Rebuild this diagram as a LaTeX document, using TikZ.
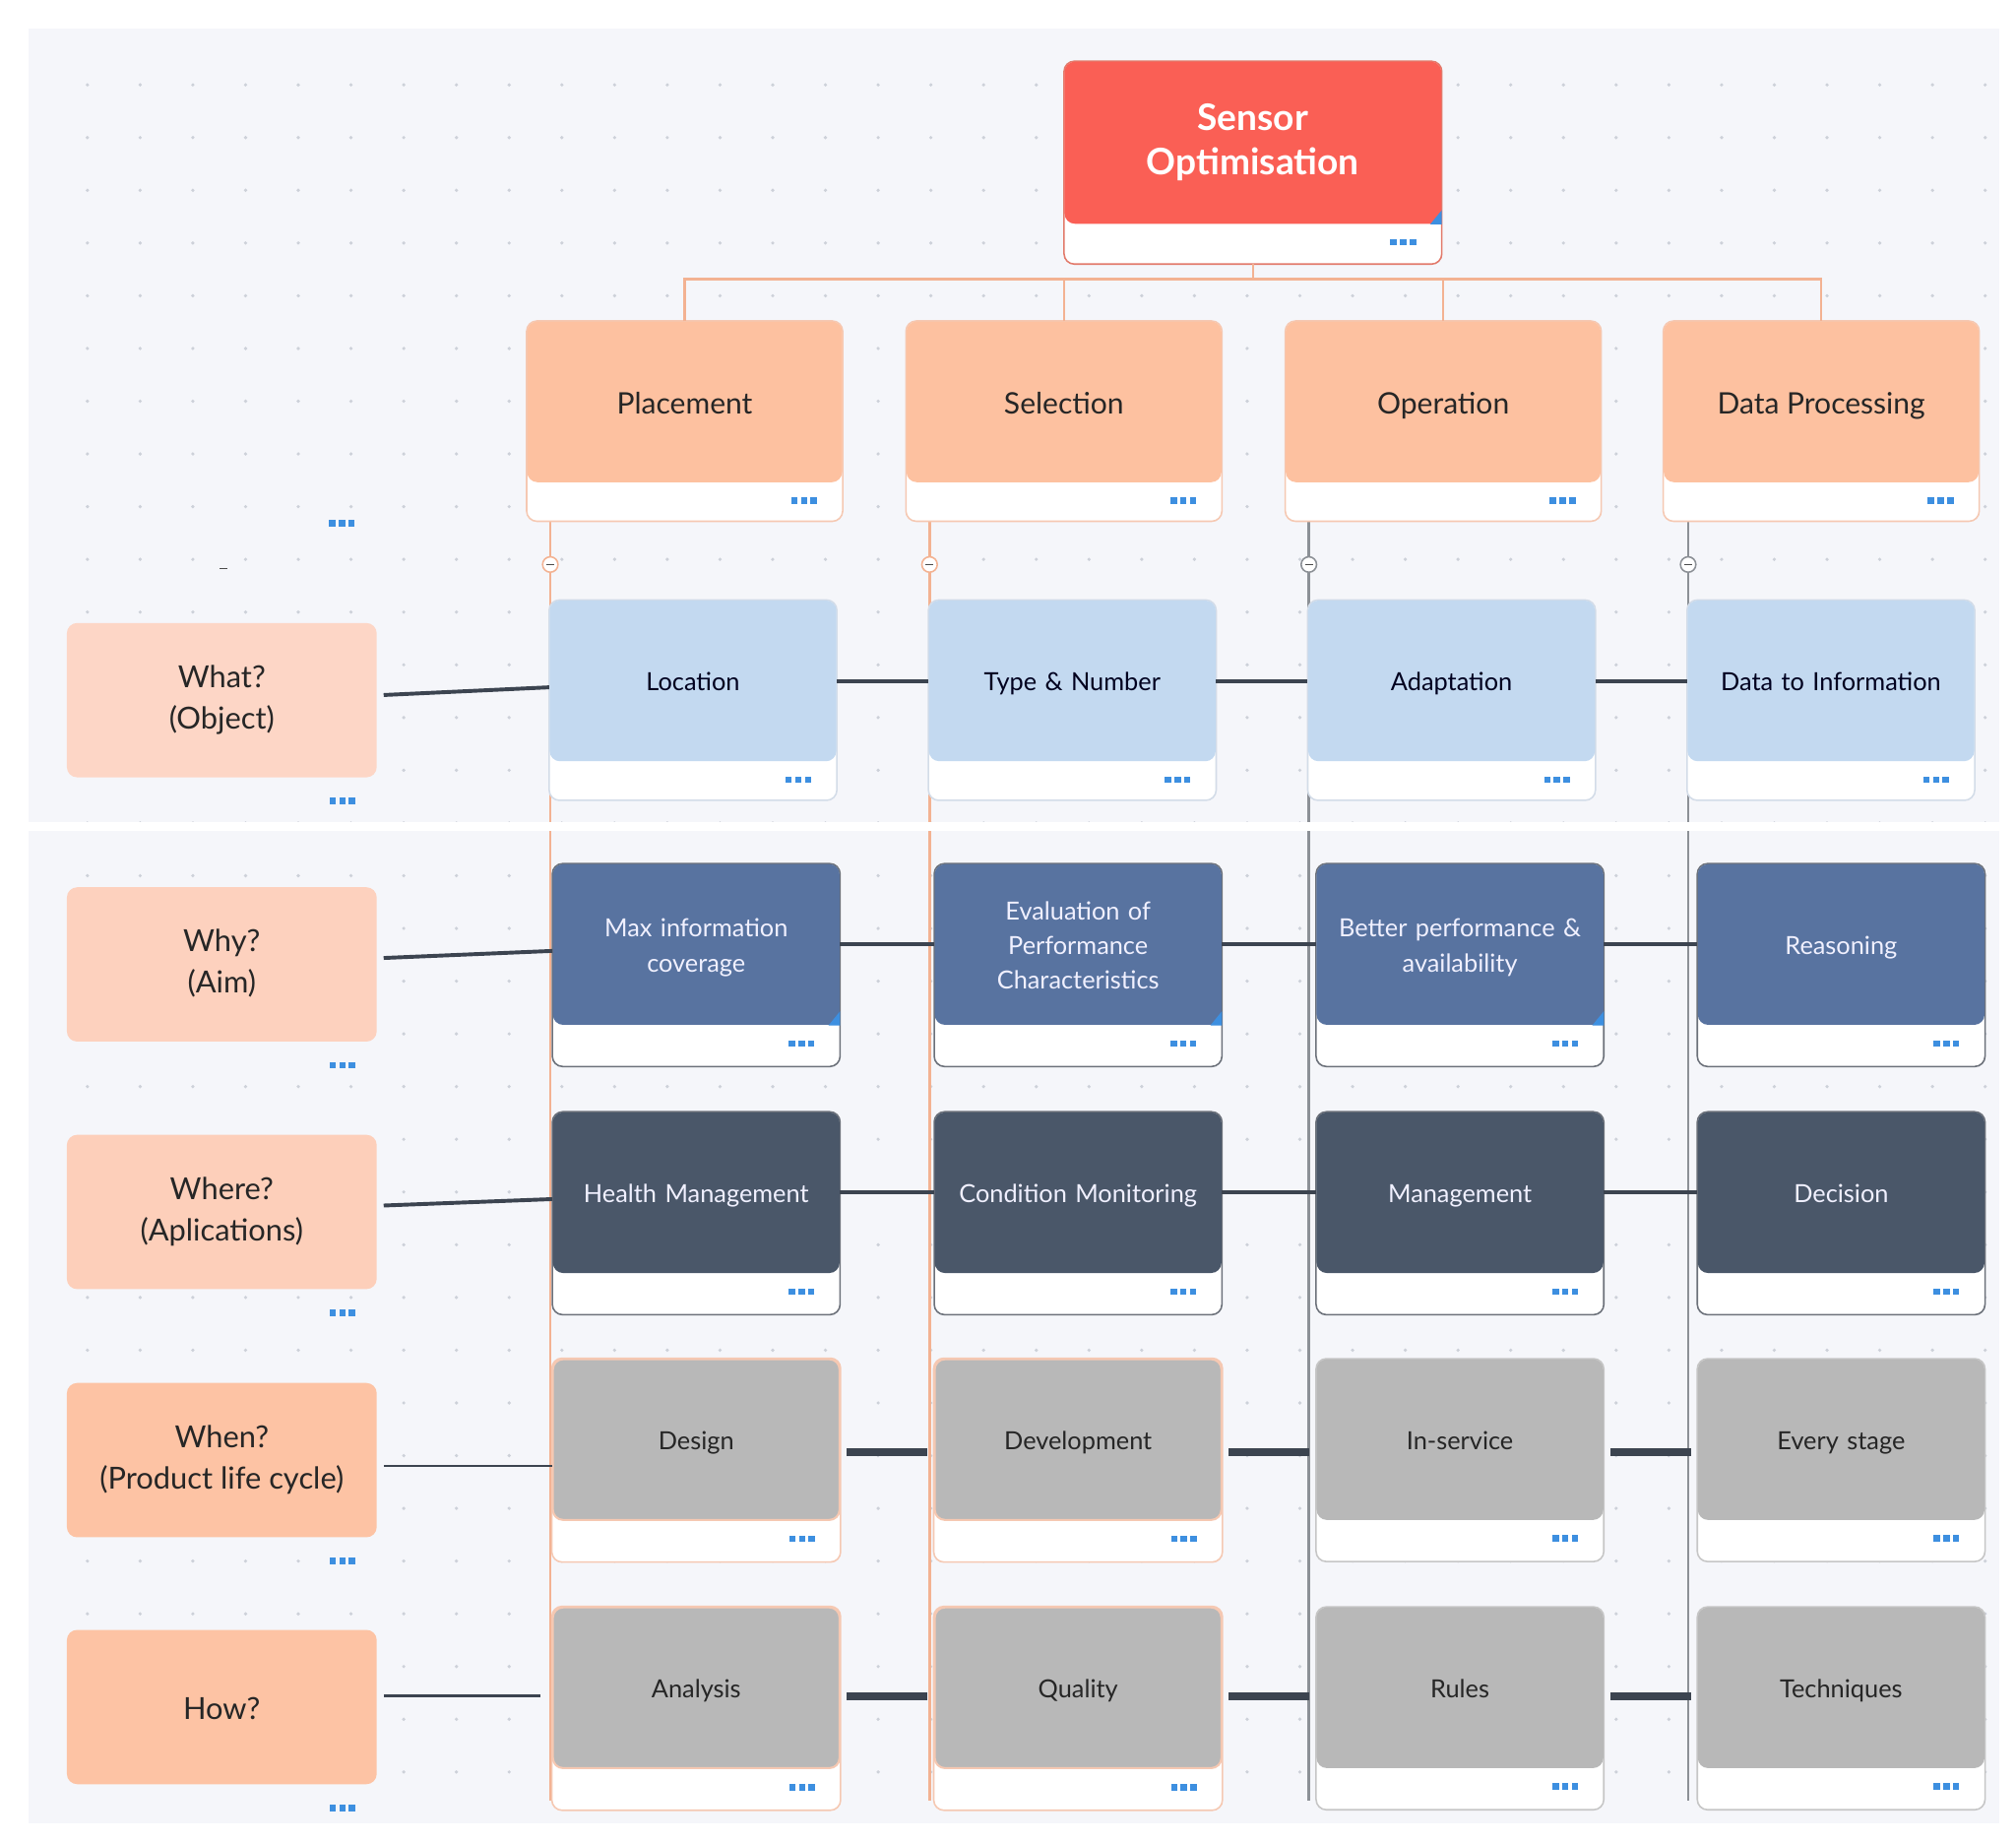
\documentclass[tikz,border=0pt]{standalone}
\usepackage{fontspec}
\setmainfont{Lato}
\usepackage{xcolor}
\usetikzlibrary{positioning, calc, backgrounds}

\definecolor{canvas}{HTML}{F5F6FA}
\definecolor{griddot}{HTML}{CDD1D9}
\definecolor{rootred}{HTML}{FA5F55}
\definecolor{rootrim}{HTML}{E27A6B}
\definecolor{peach}{HTML}{FDC1A0}
\definecolor{peachrim}{HTML}{F5C8B2}
\definecolor{treeline}{HTML}{F3B292}
\definecolor{greyline}{HTML}{8C9096}
\definecolor{skyblue}{HTML}{C3D9F0}
\definecolor{skyrim}{HTML}{D3DCE8}
\definecolor{steel}{HTML}{5873A0}
\definecolor{slate}{HTML}{4A5769}
\definecolor{darkrim}{HTML}{6C717A}
\definecolor{stone}{HTML}{B8B8B8}
\definecolor{stonerim}{HTML}{C6C6C6}
\definecolor{linkdark}{HTML}{3C4450}
\definecolor{dotblue}{HTML}{3D8FE0}
\definecolor{qone}{HTML}{FDD6C6}
\definecolor{qtwo}{HTML}{FDD1BE}
\definecolor{qthree}{HTML}{FDCFBA}
\definecolor{qfour}{HTML}{FDC3A4}

% three small squares under each card
\newcommand{\moredots}[1]{%
  \foreach \k in {-7.5,0,7.5} \fill[dotblue] ($(#1)+(\k,0)$) ++(-2.5,-2.5) rectangle ++(5,5);}
\newcommand{\carddots}[1]{%
  \coordinate (tmpdots) at ([xshift=-15pt,yshift=-7pt]#1.south east); \moredots{tmpdots}}
% little blue selection corner
\newcommand{\selcorner}[1]{%
  \fill[dotblue] (#1.south east) -- ++(0,-11) -- ++(-9,11) -- cycle;}
\newcommand{\cardstrut}{\rule[-0.2em]{0pt}{1.2em}}

\tikzset{
  struts/.style={execute at begin node=\cardstrut, execute at end node=\cardstrut},
  card/.style={rounded corners=4pt, inner sep=2pt, align=center, text width=100pt, struts,
    minimum width=111.5pt, minimum height=62.5pt, font=\fontsize{9.7}{13.5}\selectfont},
  objcell/.style={card, fill=skyblue, text=black!80!blue!60!black},
  aimcell/.style={card, fill=steel, text=white!94!blue},
  appcell/.style={card, fill=slate, text=white!94!blue},
  lifecellA/.style={card, fill=stone, draw=peachrim, line width=0.8pt, text=black!85},
  lifecellB/.style={card, fill=stone, text=black!85},
  catbox/.style={rounded corners=4pt, fill=peach, minimum width=122.5pt, minimum height=62.5pt, struts,
    font=\fontsize{11.5}{14}\selectfont, text=black!85},
  qbox/.style={rounded corners=4pt, minimum width=120.5pt, minimum height=60pt, align=center, struts,
    font=\fontsize{11.8}{16}\selectfont, text=black!85},
  rim/.style={draw=#1, fill=white, rounded corners=4pt, line width=0.6pt},
  link/.style={linkdark, line width=1.5pt},
  thinlink/.style={linkdark, line width=1pt},
  boldlink/.style={linkdark, line width=3pt},
  tree/.style={treeline, line width=1pt}
}

\begin{document}
\begin{tikzpicture}[x=0.5pt, y=-0.5pt]
  \useasboundingbox (0,0) rectangle (1568,1433);

  % root and categories
  \node[rounded corners=4pt, fill=rootred, minimum width=146.5pt, minimum height=63pt, align=center, struts,
    text=white, font=\bfseries\fontsize{14.2}{17}\selectfont] (sensor) at (974.5,111) {Sensor\\Optimisation};
  \node[catbox] (place)  at (532.5,312.5)  {Placement};
  \node[catbox] (select) at (827.5,312.5)  {Selection};
  \node[catbox] (oper)   at (1122.5,312.5) {Operation};
  \node[catbox] (data)   at (1416.5,312.5) {Data Processing};

  % questions
  \node[qbox, fill=qone]   (what)  at (172.5,544.5)  {What?\\(Object)};
  \node[qbox, fill=qtwo]   (why)   at (172.5,750)    {Why?\\(Aim)};
  \node[qbox, fill=qthree] (where) at (172.5,942.5)  {Where?\\(Aplications)};
  \node[qbox, fill=qfour]  (when)  at (172.5,1135.5) {When?\\(Product life cycle)};
  \node[qbox, fill=qfour]  (how)   at (172.5,1327.5) {How?};

  % object row
  \node[objcell] (loc)   at (539,529.5)  {Location};
  \node[objcell] (type)  at (834,529.5)  {Type \& Number};
  \node[objcell] (adapt) at (1129,529.5) {Adaptation};
  \node[objcell] (info)  at (1424,529.5) {Data to Information};
  % aim row
  \node[aimcell] (maxinfo) at (541.5,734.5)  {Max information\\coverage};
  \node[aimcell] (eval)    at (838.5,734.5)  {Evaluation of\\Performance\\Characteristics};
  \node[aimcell] (better)  at (1135.5,734.5) {Better performance \&\\availability};
  \node[aimcell] (reason)  at (1432,734.5)   {Reasoning};
  % application row
  \node[appcell] (health) at (541.5,927.5)  {Health Management};
  \node[appcell] (cond)   at (838.5,927.5)  {Condition Monitoring};
  \node[appcell] (manage) at (1135.5,927.5) {Management};
  \node[appcell] (decide) at (1432,927.5)   {Decision};
  % life cycle row
  \node[lifecellA] (design)    at (541.5,1119.5)  {Design};
  \node[lifecellA] (develop)   at (838.5,1119.5)  {Development};
  \node[lifecellB] (inservice) at (1135.5,1119.5) {In-service};
  \node[lifecellB] (every)     at (1432,1119.5)   {Every stage};
  % how row
  \node[lifecellA] (analysis) at (541.5,1312.5)  {Analysis};
  \node[lifecellA] (quality)  at (838.5,1312.5)  {Quality};
  \node[lifecellB] (rules)    at (1135.5,1312.5) {Rules};
  \node[lifecellB] (tech)     at (1432,1312.5)   {Techniques};

  \begin{scope}[on background layer]
    \fill[canvas] (22,22) rectangle (1555,1418);
    \foreach \x in {68,109,...,1550}
      \foreach \y in {66,107,...,1410}
        \fill[griddot] (\x,\y) circle (1.4);
    % column lines
    \foreach \x/\c in {428/treeline, 723/treeline, 1018/greyline, 1313/greyline}
      \draw[\c, line width=1pt] (\x,405) -- (\x,1400);
    \fill[white] (22,639) rectangle (1555,646);
    % card frames
    \draw[rim=rootrim] (sensor.north west) rectangle ([yshift=-15.5pt]sensor.south east);
    \foreach \n in {place, select, oper, data}
      \draw[rim=peachrim] (\n.north west) rectangle ([yshift=-15pt]\n.south east);
    \foreach \n in {loc, type, adapt, info}
      \draw[rim=skyrim] (\n.north west) rectangle ([yshift=-15pt]\n.south east);
    \foreach \n in {maxinfo, eval, better, reason, health, cond, manage, decide}
      \draw[rim=darkrim] (\n.north west) rectangle ([yshift=-16pt]\n.south east);
    \foreach \n in {design, develop, analysis, quality}
      \draw[rim=peachrim] (\n.north west) rectangle ([yshift=-16pt]\n.south east);
    \foreach \n in {inservice, every, rules, tech}
      \draw[rim=stonerim] (\n.north west) rectangle ([yshift=-16pt]\n.south east);
  \end{scope}

  % tree from the root
  \coordinate (hub) at (974.5,217);
  \draw[tree] ([yshift=-15.5pt]sensor.south) -- (hub);
  \draw[tree] (place.north) |- (hub) -| (data.north);
  \draw[tree] (select.north) -- (select.north |- hub);
  \draw[tree] (oper.north) -- (oper.north |- hub);

  % collapse marks
  \foreach \x/\c in {428/treeline, 723/treeline, 1018/greyline, 1313/greyline} {
    \draw[\c, fill=white, line width=0.6pt] (\x,439) circle (6);
    \draw[black!70, line width=0.6pt] (\x-3,439) -- (\x+3,439);
  }

  % links between the rows
  \draw[link] ([xshift=2.5pt,yshift=2pt]what.east) -- ([yshift=-2.5pt]loc.west);
  \draw[link] (loc) -- (type);
  \draw[link] (type) -- (adapt);
  \draw[link] (adapt) -- (info);
  \draw[link] ([xshift=2.5pt,yshift=2.5pt]why.east) -- ([yshift=-2.5pt]maxinfo.west);
  \draw[link] (maxinfo) -- (eval);
  \draw[link] (eval) -- (better);
  \draw[link] (better) -- (reason);
  \draw[link] ([xshift=2.5pt,yshift=2.5pt]where.east) -- ([yshift=-2.5pt]health.west);
  \draw[link] (health) -- (cond);
  \draw[link] (cond) -- (manage);
  \draw[link] (manage) -- (decide);
  \draw[thinlink] ([xshift=2.5pt,yshift=-2.25pt]when.east) coordinate (w4) -- (w4 -| design.west);
  \draw[boldlink] ([xshift=2.5pt,yshift=-5pt]design.east) -- ([xshift=-2.5pt,yshift=-5pt]develop.west);
  \draw[boldlink] ([xshift=2.5pt,yshift=-5pt]develop.east) -- ([xshift=-2.5pt,yshift=-5pt]inservice.west);
  \draw[boldlink] ([xshift=2.5pt,yshift=-5pt]inservice.east) -- ([xshift=-2.5pt,yshift=-5pt]every.west);
  \draw[thinlink] ([xshift=2.5pt,yshift=4.25pt]how.east) coordinate (w5) -- ([xshift=-4.5pt]w5 -| analysis.west);
  \draw[boldlink] ([xshift=2.5pt,yshift=-3.25pt]analysis.east) -- ([xshift=-2.5pt,yshift=-3.25pt]quality.west);
  \draw[boldlink] ([xshift=2.5pt,yshift=-3.25pt]quality.east) -- ([xshift=-2.5pt,yshift=-3.25pt]rules.west);
  \draw[boldlink] ([xshift=2.5pt,yshift=-3.25pt]rules.east) -- ([xshift=-2.5pt,yshift=-3.25pt]tech.west);

  % dots and corners
  \foreach \n in {sensor, place, select, oper, data, loc, type, adapt, info,
      maxinfo, eval, better, reason, health, cond, manage, decide,
      design, develop, inservice, every, analysis, quality, rules, tech}
    \carddots{\n};
  \foreach \n in {what, why, where, when, how} {
    \coordinate (qd) at ([xshift=-13.5pt,yshift=-9pt]\n.south east);
    \moredots{qd};
  }
  \coordinate (stray) at (266,407);
  \moredots{stray};
  \draw[black!70, line width=0.6pt] (171,442) -- (177,442);
  \foreach \n in {sensor, maxinfo, eval, better}
    \selcorner{\n};
\end{tikzpicture}
\end{document}
